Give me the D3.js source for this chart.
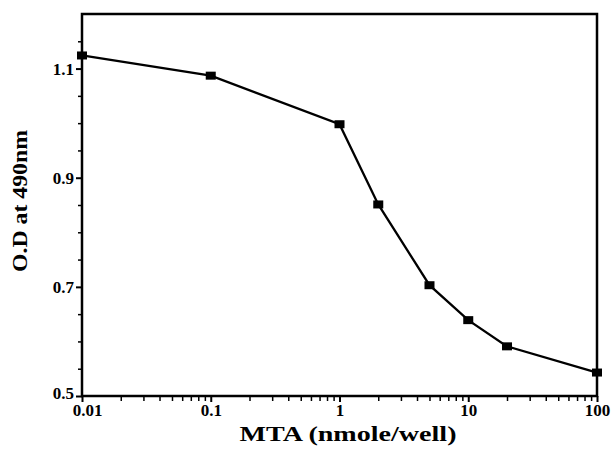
<!DOCTYPE html>
<html><head><meta charset="utf-8">
<script src="https://cdn.jsdelivr.net/npm/d3@7"></script>
<style>body{margin:0;background:#fff}svg{display:block}
.t{font-family:"Liberation Serif","DejaVu Serif","Times New Roman",serif;font-weight:bold;fill:#000}</style>
</head><body>
<svg id="c" width="611" height="451"></svg>
<script>
const doses = [0.01, 0.1, 1, 2, 5, 10, 20, 100];
const od = [1.124, 1.087, 0.998, 0.851, 0.703, 0.639, 0.591, 0.543];
const xTicks = [0.01, 0.1, 1, 10, 100];
const xTickLabels = ["0.01", "0.1", "1", "10", "100"];
const yTicks = [0.5, 0.7, 0.9, 1.1];
const yTickLabels = ["0.5", "0.7", "0.9", "1.1"];
const xTitle = "MTA (nmole/well)";
const yTitle = "O.D at 490nm";

const svg = d3.select("#c");
const L = 82, R = 597, T = 14, B = 396;
const x = d3.scaleLog().domain([0.01, 100]).range([L, R]);
const y = d3.scaleLinear().domain([0.5, 1.2]).range([B, T]);

const xMinor = [];
[0.01, 0.1, 1, 10].forEach(d => { for (let k = 2; k <= 9; k++) xMinor.push(d * k); });
const yMinor = d3.range(0.55, 1.2, 0.05).filter(v => !yTicks.some(t => Math.abs(t - v) < 1e-6));

const gx = svg.append("g").attr("transform", `translate(0,${B})`)
  .call(d3.axisBottom(x).tickValues(xMinor).tickSize(5).tickFormat(""));
gx.select(".domain").remove();
gx.selectAll("line").attr("stroke", "#000").attr("stroke-width", 1.5);

const gx2 = svg.append("g").attr("transform", `translate(0,${B})`)
  .call(d3.axisBottom(x).tickValues(xTicks).tickSize(6).tickPadding(2)
    .tickFormat((d, i) => xTickLabels[i]));
gx2.attr("font-family", null).attr("font-size", null);
gx2.select(".domain").remove();
gx2.selectAll("line").attr("stroke", "#000").attr("stroke-width", 2);
gx2.selectAll("text").attr("class", "t").attr("font-size", 17).attr("fill", "#000")
  .attr("dx", (d, i) => i === 0 ? 5 : 0);

const gy = svg.append("g").attr("transform", `translate(${L},0)`)
  .call(d3.axisLeft(y).tickValues(yMinor).tickSize(4).tickFormat(""));
gy.select(".domain").remove();
gy.selectAll("line").attr("stroke", "#000").attr("stroke-width", 1.5);

const gy2 = svg.append("g").attr("transform", `translate(${L},0)`)
  .call(d3.axisLeft(y).tickValues(yTicks).tickSize(6).tickPadding(2)
    .tickFormat((d, i) => yTickLabels[i]));
gy2.attr("font-family", null).attr("font-size", null);
gy2.select(".domain").remove();
gy2.selectAll("line").attr("stroke", "#000").attr("stroke-width", 2);
gy2.selectAll("text").attr("class", "t").attr("font-size", 17).attr("fill", "#000")
  .attr("dy", (d, i) => i === 0 ? "0.15em" : "0.32em");

svg.append("rect").attr("x", L).attr("y", T).attr("width", R - L).attr("height", B - T)
  .attr("fill", "none").attr("stroke", "#000").attr("stroke-width", 2.5);

const pts = doses.map((d, i) => [d, od[i]]);
svg.append("path").datum(pts)
  .attr("d", d3.line().x(d => x(d[0])).y(d => y(d[1])))
  .attr("fill", "none").attr("stroke", "#000").attr("stroke-width", 2.3);

svg.selectAll("rect.m").data(pts).enter().append("rect").attr("class", "m")
  .attr("x", d => x(d[0]) - 5).attr("y", d => y(d[1]) - 4)
  .attr("width", 10).attr("height", 8).attr("fill", "#000");

svg.append("text").attr("class", "t").attr("x", 348).attr("y", 441).attr("text-anchor", "middle")
  .attr("font-size", 22).attr("textLength", 217).attr("lengthAdjust", "spacingAndGlyphs")
  .text(xTitle);
svg.append("text").attr("class", "t").attr("transform", "translate(27,201) rotate(-90)")
  .attr("text-anchor", "middle").attr("font-size", 22)
  .attr("textLength", 142).attr("lengthAdjust", "spacingAndGlyphs")
  .text(yTitle);
</script>
</body></html>
